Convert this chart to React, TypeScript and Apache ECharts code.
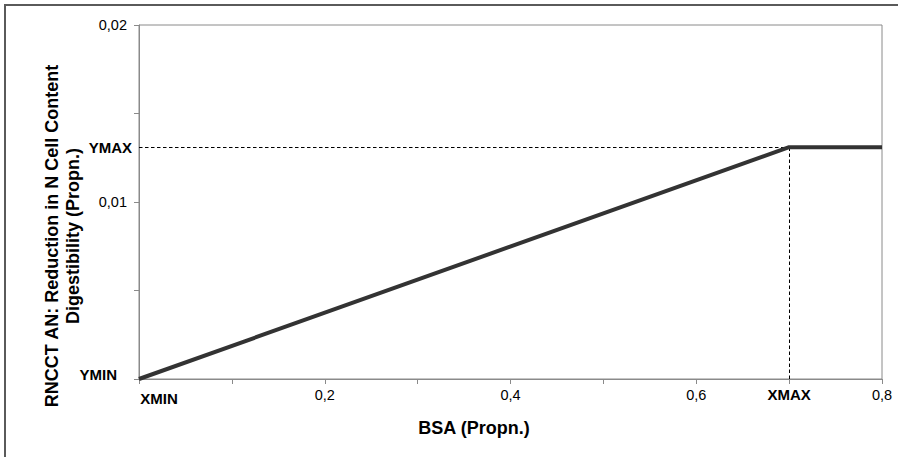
import React, { useEffect, useRef } from "react";
import * as echarts from "echarts";

// Data
const xValues = [0, 0.7, 0.8];
const yValues = [0, 0.0131, 0.0131];
const xMaxValue = 0.7;
const yMaxValue = 0.0131;
const xTickLabels: Record<string, string> = {
  "0": "{xmin|XMIN}",
  "0.2": "0,2",
  "0.4": "0,4",
  "0.6": "0,6",
  "0.7": "{xmax|XMAX}",
  "0.8": "0,8",
};
const yTickLabels: Record<string, string> = {
  "0": "{ymin|YMIN}",
  "0.01": "0,01",
  "0.02": "0,02",
};
const yTitleLines = ["RNCCT AN: Reduction in N Cell Content", "Digestibility (Propn.)"];
const xTitle = "BSA (Propn.)";

const FONT = "'Liberation Sans', Arial, sans-serif";
const AXIS_GREY = "#8a8a8a";

export default function App() {
  const ref = useRef<HTMLDivElement>(null);
  useEffect(() => {
    if (!ref.current) return;
    const chart = echarts.init(ref.current, undefined, { renderer: "svg" });
    const key = (v: number) => String(Math.round(v * 1000) / 1000);
    const data = xValues.map((x, i) => [x, yValues[i]]);
    chart.setOption({
      animation: false,
      backgroundColor: "#ffffff",
      textStyle: { fontFamily: FONT },
      grid: {
        left: 139,
        top: 25,
        right: 16,
        bottom: 78,
        show: true,
        borderColor: AXIS_GREY,
        borderWidth: 1,
        backgroundColor: "transparent",
      },
      xAxis: {
        type: "value",
        min: 0,
        max: 0.8,
        interval: 0.1,
        axisLine: { show: true, lineStyle: { color: AXIS_GREY, width: 1 } },
        axisTick: { show: true, inside: false, length: 5, lineStyle: { color: AXIS_GREY } },
        splitLine: { show: false },
        axisLabel: {
          margin: 8,
          color: "#000",
          fontSize: 14.5,
          fontFamily: FONT,
          showMinLabel: true,
          showMaxLabel: true,
          formatter: (v: number) => xTickLabels[key(v)] ?? "",
          rich: {
            xmin: { fontWeight: "bold", fontSize: 15, fontFamily: FONT, color: "#000", padding: [4, 0, 0, 40] },
            xmax: { fontWeight: "bold", fontSize: 15, fontFamily: FONT, color: "#000" },
          },
        },
      },
      yAxis: {
        type: "value",
        min: 0,
        max: 0.02,
        interval: 0.005,
        axisLine: { show: true, lineStyle: { color: AXIS_GREY, width: 1 } },
        axisTick: { show: true, inside: false, length: 5, lineStyle: { color: AXIS_GREY } },
        splitLine: { show: false },
        axisLabel: {
          margin: 12,
          color: "#000",
          fontSize: 14.5,
          fontFamily: FONT,
          showMinLabel: true,
          showMaxLabel: true,
          formatter: (v: number) => yTickLabels[key(v)] ?? "",
          rich: {
            ymin: { fontWeight: "bold", fontSize: 15, fontFamily: FONT, color: "#000", padding: [0, 10, 10, 0] },
          },
        },
      },
      series: [
        {
          type: "line",
          data,
          symbol: "none",
          lineStyle: { color: "#333333", width: 4 },
          z: 5,
          markLine: {
            silent: true,
            symbol: "none",
            animation: false,
            lineStyle: { color: "#000", width: 1, type: [3.5, 2.5] },
            data: [
              [
                {
                  coord: [0, yMaxValue],
                  label: {
                    show: true,
                    position: "start",
                    formatter: "YMAX",
                    distance: 7,
                    fontWeight: "bold",
                    fontSize: 15,
                    fontFamily: FONT,
                    color: "#000",
                  },
                },
                { coord: [xMaxValue, yMaxValue] },
              ],
              [
                { coord: [xMaxValue, 0], label: { show: false } },
                { coord: [xMaxValue, yMaxValue] },
              ],
            ],
          },
        },
      ],
      graphic: [
        {
          type: "rect",
          shape: { x: 5, y: 5, width: 1000, height: 1000 },
          style: { fill: "none", stroke: "#5a5a5a", lineWidth: 2 },
          silent: true,
        },
        {
          type: "text",
          x: 52,
          y: 236,
          rotation: Math.PI / 2,
          style: {
            text: yTitleLines[0],
            fontSize: 18,
            fontWeight: "bold",
            fontFamily: FONT,
            fill: "#000",
            textAlign: "center",
            textVerticalAlign: "middle",
          },
        },
        {
          type: "text",
          x: 73,
          y: 236,
          rotation: Math.PI / 2,
          style: {
            text: yTitleLines[1],
            fontSize: 18,
            fontWeight: "bold",
            fontFamily: FONT,
            fill: "#000",
            textAlign: "center",
            textVerticalAlign: "middle",
          },
        },
        {
          type: "text",
          x: 474,
          y: 428,
          style: {
            text: xTitle,
            fontSize: 18,
            fontWeight: "bold",
            fontFamily: FONT,
            fill: "#000",
            textAlign: "center",
            textVerticalAlign: "middle",
          },
        },
      ],
    });
    return () => chart.dispose();
  }, []);
  return (
    <div
      ref={ref}
      style={{ position: "fixed", left: 0, top: 0, width: 898, height: 457, background: "#fff" }}
    />
  );
}
